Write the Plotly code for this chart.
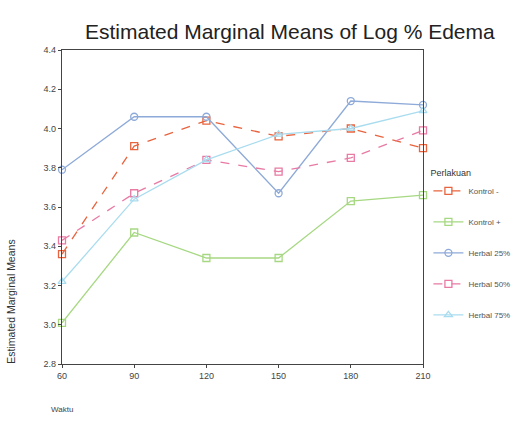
import plotly.graph_objects as go

# Time points (minutes) and group means of log % edema
waktu = [60, 90, 120, 150, 180, 210]
kontrol_neg = [3.36, 3.91, 4.04, 3.96, 4.00, 3.90]
kontrol_pos = [3.01, 3.47, 3.34, 3.34, 3.63, 3.66]
herbal_25 = [3.79, 4.06, 4.06, 3.67, 4.14, 4.12]
herbal_50 = [3.43, 3.67, 3.84, 3.78, 3.85, 3.99]
herbal_75 = [3.22, 3.64, 3.84, 3.97, 4.00, 4.09]

group_names = ["Kontrol -", "Kontrol +", "Herbal 25%", "Herbal 50%", "Herbal 75%"]
y_ticks = [2.8, 3.0, 3.2, 3.4, 3.6, 3.8, 4.0, 4.2, 4.4]

styles = [
    dict(color="#e8643f", dash="dash", symbol="square-open"),
    dict(color="#a6d882", dash="solid", symbol="square-open"),
    dict(color="#8eaad8", dash="solid", symbol="circle-open"),
    dict(color="#e87aa4", dash="dash", symbol="square-open"),
    dict(color="#a9dcef", dash="solid", symbol="triangle-up-open"),
]

fig = go.Figure()
for name, vals, st in zip(group_names,
                          [kontrol_neg, kontrol_pos, herbal_25, herbal_50, herbal_75],
                          styles):
    fig.add_trace(go.Scatter(
        x=waktu, y=vals, name=name, legendgroup=name, mode="lines+markers",
        line=dict(color=st["color"], width=1.3, dash=st["dash"]),
        marker=dict(symbol=st["symbol"], size=7, color=st["color"],
                    line=dict(width=1.3, color=st["color"])),
        cliponaxis=False,
    ))

fig.update_layout(
    width=527, height=424,
    margin=dict(l=62, r=96, t=50, b=60),
    paper_bgcolor="white", plot_bgcolor="white",
    font=dict(family="Liberation Sans, Arial, sans-serif", color="#333", size=8),
    title=dict(text="Estimated Marginal Means of Log % Edema",
               x=0.55, xanchor="center", y=0.925, yanchor="middle",
               font=dict(size=21, color="#222")),
    showlegend=True,
    legend=dict(
        title=dict(text="Perlakuan", font=dict(size=9, color="#333")),
        x=1.015, xanchor="left", y=0.635, yanchor="top",
        font=dict(size=8, color="#555"),
        traceorder="grouped", tracegroupgap=12,
        bgcolor="rgba(0,0,0,0)",
    ),
    xaxis=dict(
        range=[60, 210], tickvals=waktu, ticktext=[str(v) for v in waktu],
        showgrid=False, zeroline=False,
        showline=True, linecolor="#444", linewidth=1.2, mirror=True,
        ticks="outside", ticklen=3, tickcolor="#444",
        tickfont=dict(size=9, color="#444"),
    ),
    yaxis=dict(
        range=[2.8, 4.4], tickvals=y_ticks, ticktext=[f"{v:.1f}" for v in y_ticks],
        showgrid=False, zeroline=False,
        showline=True, linecolor="#444", linewidth=1.2, mirror=True,
        ticks="outside", ticklen=3, tickcolor="#444",
        tickfont=dict(size=9, color="#444"),
    ),
    annotations=[
        dict(text="Estimated Marginal Means", xref="paper", yref="paper",
             x=-0.14, y=0.20, textangle=-90, showarrow=False,
             xanchor="center", yanchor="middle",
             font=dict(size=10.5, color="#333")),
        dict(text="Waktu", xref="paper", yref="paper",
             x=-0.035, y=-0.145, showarrow=False,
             xanchor="left", yanchor="middle",
             font=dict(size=8, color="#444")),
    ],
)

fig.write_html("out.html")
